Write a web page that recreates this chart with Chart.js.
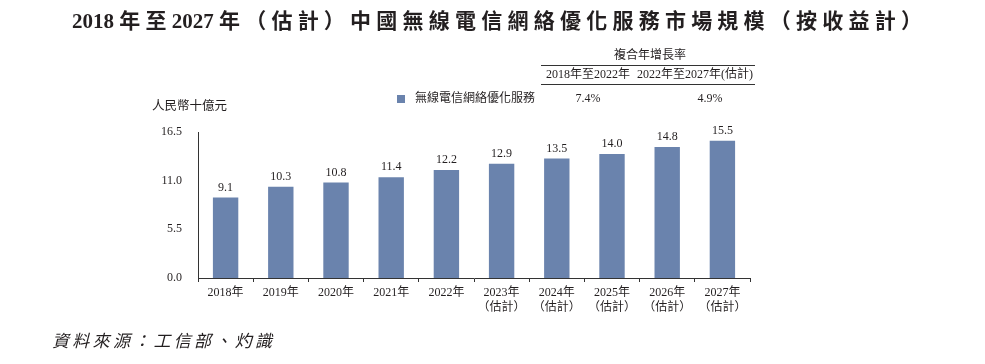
<!DOCTYPE html>
<html>
<head>
<meta charset="utf-8">
<script src="https://cdn.jsdelivr.net/npm/chart.js@4"></script>
<style>
  html, body { margin: 0; padding: 0; background: #fff; }
  #wrap { width: 985px; height: 364px; position: relative; }
</style>
</head>
<body>
<div id="wrap"><canvas id="myBar" width="985" height="364"></canvas></div>
<script>
// données du graphique
const years = ['2018年', '2019年', '2020年', '2021年', '2022年',
  ['2023年', '（估計）'], ['2024年', '（估計）'], ['2025年', '（估計）'], ['2026年', '（估計）'], ['2027年', '（估計）']];
const marketSize = [9.1, 10.3, 10.8, 11.4, 12.2, 12.9, 13.5, 14.0, 14.8, 15.5];
const yTicks = [0.0, 5.5, 11.0, 16.5];
const cagrPeriods = ['2018年至2022年', '2022年至2027年(估計)'];
const cagrValues = ['7.4%', '4.9%'];

const seriesName = '無線電信網絡優化服務';
const barColor = '#6a83ad';
const FONT = '"Liberation Serif", "Noto Sans CJK TC", serif';
const INK = '#231f20';

// écrit un texte étiré sur une largeur donnée, les chiffres restent groupés
function spreadText(ctx, text, x, y, width) {
  ctx.letterSpacing = '0px';
  const tokens = text.match(/[0-9.%]+|./gu);
  const total = tokens.reduce((s, t) => s + ctx.measureText(t).width, 0);
  const gap = (width - total) / (tokens.length - 1);
  let cx = x;
  tokens.forEach(t => {
    ctx.fillText(t, cx, y);
    cx += ctx.measureText(t).width + gap;
  });
}

// écrit un texte centré, taille de police ajustée pour tenir dans la largeur
function fitText(ctx, text, cx, y, width, size) {
  ctx.font = size + 'px ' + FONT;
  const w = ctx.measureText(text).width;
  if (w > width) ctx.font = (size * width / w).toFixed(2) + 'px ' + FONT;
  ctx.fillText(text, cx, y);
}

// textes autour du graphique
const decorPlugin = {
  id: 'decor',
  afterDraw(chart) {
    const ctx = chart.ctx;
    ctx.save();
    ctx.fillStyle = INK;
    ctx.textBaseline = 'middle';

    // titre
    ctx.font = 'bold 21px ' + FONT;
    ctx.textAlign = 'left';
    spreadText(ctx, '2018年至2027年（估計）中國無線電信網絡優化服務市場規模（按收益計）', 72, 23, 850);

    // unité
    ctx.font = '12.5px ' + FONT;
    ctx.fillText('人民幣十億元', 152, 107);

    // légende
    ctx.fillStyle = barColor;
    ctx.fillRect(397, 95, 8, 8);
    ctx.fillStyle = INK;
    ctx.font = '12px ' + FONT;
    ctx.fillText(seriesName, 415, 99);

    // tableau TCAC
    ctx.textAlign = 'center';
    ctx.fillText('複合年增長率', 650, 56);
    ctx.strokeStyle = '#333';
    ctx.lineWidth = 1;
    ctx.beginPath();
    ctx.moveTo(541, 65.5); ctx.lineTo(755, 65.5);
    ctx.moveTo(541, 84.5); ctx.lineTo(755, 84.5);
    ctx.stroke();
    fitText(ctx, cagrPeriods[0], 588, 75, 84, 12);
    fitText(ctx, cagrPeriods[1], 695, 75, 117, 12);
    ctx.font = '12px ' + FONT;
    ctx.fillText(cagrValues[0], 588, 99);
    ctx.fillText(cagrValues[1], 710, 99);

    // étiquettes des barres
    const meta = chart.getDatasetMeta(0);
    ctx.font = '12px ' + FONT;
    meta.data.forEach((bar, i) => {
      ctx.fillText(marketSize[i].toFixed(1), bar.x, bar.y - 10);
    });

    // source
    ctx.textAlign = 'left';
    ctx.font = 'italic 17px ' + FONT;
    spreadText(ctx, '資料來源：工信部、灼識', 52, 343, 220);
    ctx.restore();
  }
};

const myBar = document.querySelector('#myBar');
const chartBar = new Chart(myBar, {
  type: 'bar',
  data: {
    labels: years,
    datasets: [{
      label: seriesName,
      data: marketSize,
      backgroundColor: barColor,
      categoryPercentage: 1,
      barPercentage: 0.46,
    }]
  },
  options: {
    responsive: false,
    animation: false,
    layout: { padding: { left: 148, right: 235, top: 132, bottom: 30 } },
    plugins: {
      legend: { display: false },
      tooltip: { enabled: false },
    },
    scales: {
      x: {
        grid: { display: true, drawOnChartArea: false, drawTicks: true, tickLength: 4, color: '#333', offset: true },
        border: { display: true, color: '#333', width: 1 },
        ticks: { color: INK, font: { family: FONT, size: 12 }, padding: 4, maxRotation: 0, autoSkip: false },
        afterFit(scale) { scale.height = 56; },
      },
      y: {
        min: 0,
        max: 16.5,
        afterBuildTicks(scale) { scale.ticks = yTicks.map(v => ({ value: v })); },
        grid: { display: false },
        border: { display: true, color: '#333', width: 1 },
        ticks: {
          color: INK, font: { family: FONT, size: 12 }, padding: 8,
          callback: v => Number(v).toFixed(1),
        },
        afterFit(scale) { scale.width = 50; },
      },
    },
  },
  plugins: [decorPlugin],
});
</script>
</body>
</html>
